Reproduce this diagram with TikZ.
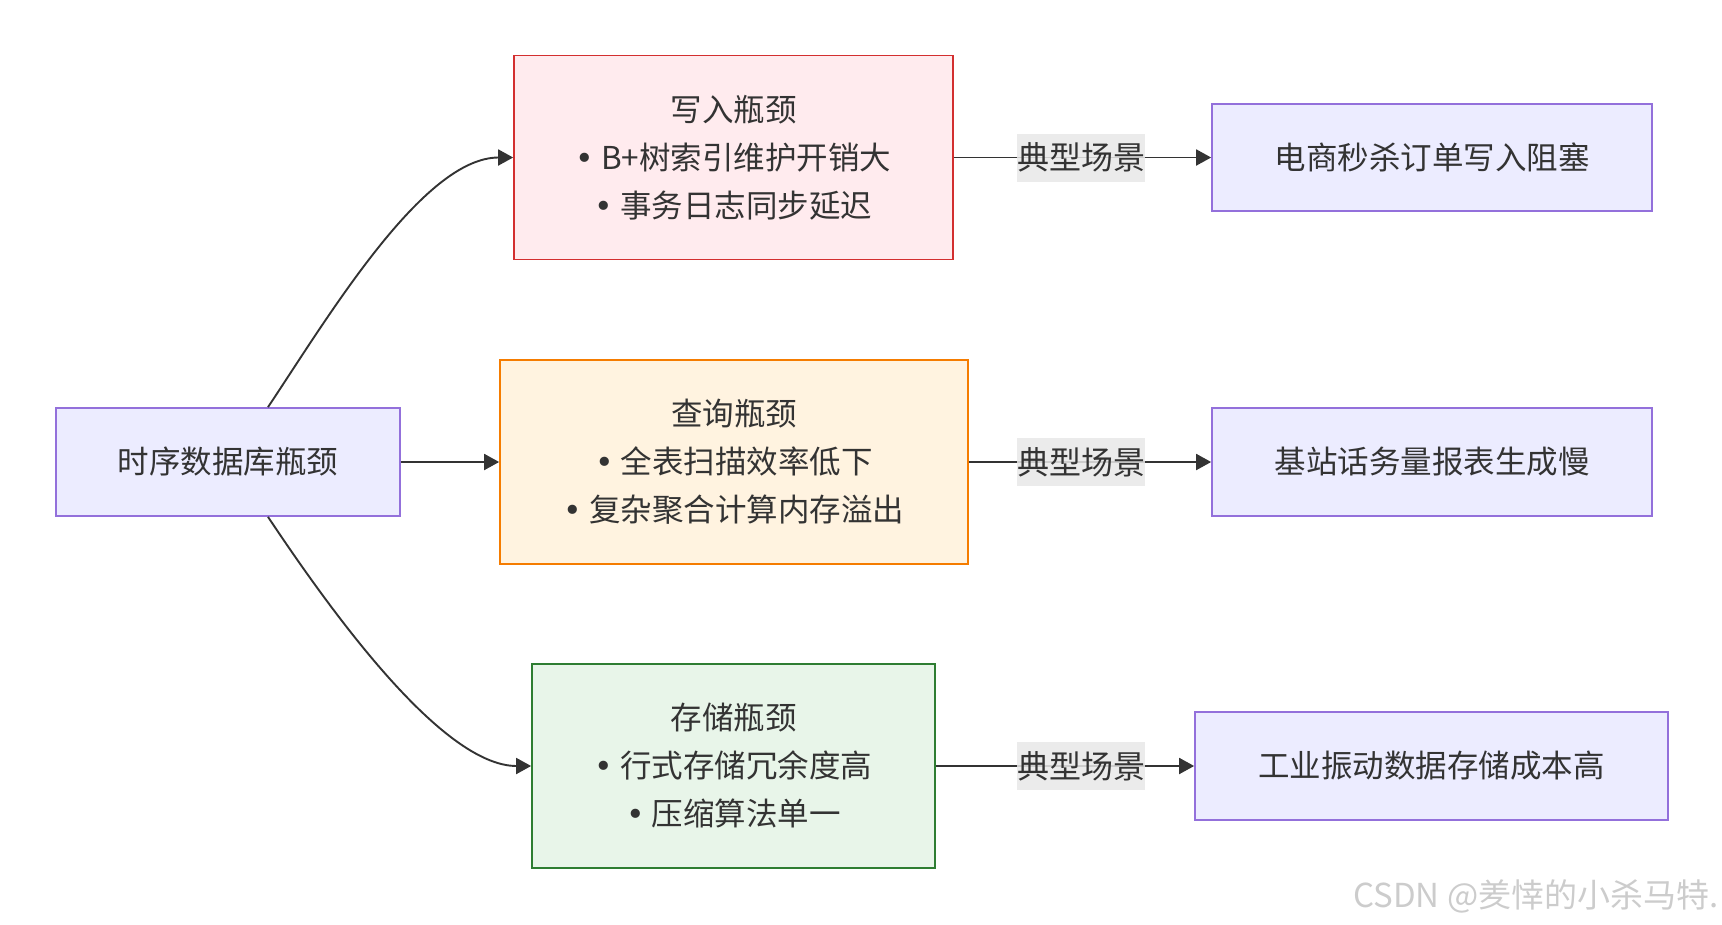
\documentclass[tikz,border=0pt]{standalone}
\usepackage{fontspec}
\newfontfamily\cjk{Noto Sans CJK SC}
\newfontfamily\dotfont{DejaVu Sans}
\usetikzlibrary{arrows.meta}
\definecolor{inkgray}{HTML}{333333}
\definecolor{mainfill}{HTML}{ECECFF}
\definecolor{mainline}{HTML}{9370DB}
\definecolor{writefill}{HTML}{FFEBEE}
\definecolor{writeline}{HTML}{D32F2F}
\definecolor{queryfill}{HTML}{FFF3E0}
\definecolor{queryline}{HTML}{F57C00}
\definecolor{storefill}{HTML}{E8F5E9}
\definecolor{storeline}{HTML}{2E7D32}
\definecolor{labelfill}{HTML}{E8E8E8}
\newcommand{\bul}{{\dotfont•}\hspace{7pt}}

\begin{document}
\begin{tikzpicture}[x=1pt,y=-1pt,
    box/.style={draw, line width=1.7pt, inner sep=0pt, align=center, text=inkgray,
      font=\cjk\fontsize{31.5}{48}\selectfont},
    mainbox/.style={box, fill=mainfill, draw=mainline},
    flow/.style={draw=inkgray, line width=1.9pt, -{Triangle[length=15pt,width=16pt]}},
    scene/.style={fill=labelfill, fill opacity=0.85, text opacity=1, inner sep=0pt,
      minimum width=128pt, minimum height=48pt, text=inkgray,
      font=\cjk\fontsize{32}{32}\selectfont}]
  \useasboundingbox (0,0) rectangle (1722,924);

  % Source node
  \node[mainbox, minimum width=344pt, minimum height=108pt] (src) at (228,462) {时序数据库瓶颈};

  % Bottleneck nodes
  \node[box, fill=writefill, draw=writeline, minimum width=439pt, minimum height=204pt] (write) at (733.5,157.5)
    {写入瓶颈\\\bul B+树索引维护开销大\\\bul 事务日志同步延迟};
  \node[box, fill=queryfill, draw=queryline, minimum width=468pt, minimum height=204pt] (query) at (734,462)
    {查询瓶颈\\\bul 全表扫描效率低下\\\bul 复杂聚合计算内存溢出};
  \node[box, fill=storefill, draw=storeline, minimum width=403pt, minimum height=204pt] (store) at (733.5,766)
    {存储瓶颈\\\bul 行式存储冗余度高\\\bul 压缩算法单一};

  % Scenario nodes
  \node[mainbox, minimum width=440pt, minimum height=107pt] (shop) at (1432,157.5) {电商秒杀订单写入阻塞};
  \node[mainbox, minimum width=440pt, minimum height=108pt] (cell) at (1432,462) {基站话务量报表生成慢};
  \node[mainbox, minimum width=473pt, minimum height=108pt] (plant) at (1431.5,766) {工业振动数据存储成本高};

  % Connect source to bottlenecks
  \draw[flow] ([xshift=40pt]src.north) .. controls +(60,-90) and +(-90,0) .. (write.west);
  \draw[flow] (src.east) -- (query.west);
  \draw[flow] ([xshift=40pt]src.south) .. controls +(60,90) and +(-90,0) .. (store.west);

  % Connect bottlenecks to scenarios
  \draw[flow] (write.east) -- (shop.west);
  \draw[flow] (query.east) -- (cell.west);
  \draw[flow] (store.east) -- (plant.west);

  % Edge labels
  \node[scene] (lbl1) at (1081,157.5) {典型场景};
  \node[scene] (lbl2) at (1081,462) {典型场景};
  \node[scene] (lbl3) at (1081,766) {典型场景};

  % Watermark
  \node[anchor=east, text=black!20, font=\cjk\fontsize{33}{33}\selectfont] (mark) at (1722,896) {CSDN @羑悻的小杀马特.};
\end{tikzpicture}
\end{document}
